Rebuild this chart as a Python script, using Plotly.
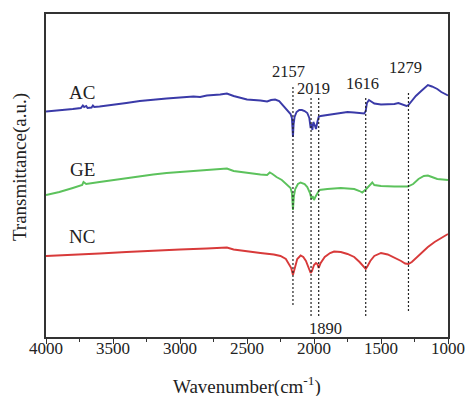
import plotly.graph_objects as go

# Wavenumber (cm-1) and transmittance (arbitrary units)
ac_x = [4000, 3900, 3800, 3740, 3725, 3715, 3700, 3690, 3660, 3650, 3640, 3600, 3500, 3400, 3300, 3200, 3100, 3000,
        2900, 2850, 2800, 2700, 2650, 2600, 2550, 2500, 2400, 2350, 2320, 2290, 2260, 2230, 2200, 2175, 2165, 2160,
        2157, 2152, 2145, 2130, 2110, 2090, 2070, 2050, 2035, 2025, 2019, 2012, 2005, 1995, 1985, 1975, 1965, 1950,
        1900, 1850, 1800, 1750, 1700, 1650, 1625, 1614, 1605, 1590, 1570, 1550, 1500, 1450, 1400, 1370, 1340, 1310,
        1295, 1270, 1240, 1200, 1170, 1150, 1120, 1080, 1050, 1020, 1000]
ac_py = [111.5, 110.5, 109, 108, 105.5, 107, 106, 108, 107.5, 105.5, 107, 106.5, 105, 103, 101, 99.5, 98.5, 97.5,
         96.5, 97, 95.5, 94.5, 93.5, 96, 98, 99.5, 100.5, 101.5, 100, 99.5, 101, 106, 110, 114, 118, 130,
         137, 124, 117, 112, 110, 110, 111, 113, 118, 128, 124, 130, 122, 125, 129, 122, 117, 116,
         115, 113.5, 113, 112, 112.5, 113, 113.5, 111, 103, 100, 102, 103.5, 104.5, 104.5, 104, 103, 104.5, 106,
         105, 101, 96, 91, 87, 85, 86.5, 89, 92, 94, 95.5]

ge_x = [4000, 3900, 3800, 3730, 3720, 3700, 3600, 3500, 3400, 3300, 3200, 3100, 3000, 2900, 2800, 2700, 2650, 2600,
        2500, 2400, 2350, 2330, 2310, 2280, 2240, 2200, 2175, 2165, 2157, 2150, 2140, 2120, 2100, 2070, 2050, 2030,
        2019, 2010, 2000, 1990, 1975, 1960, 1900, 1800, 1750, 1700, 1660, 1640, 1610, 1590, 1565, 1550, 1500, 1400,
        1350, 1300, 1260, 1220, 1180, 1150, 1120, 1080, 1040, 1000]
ge_py = [195, 192, 188, 185, 182, 184, 182, 180, 178, 176, 174.5, 173, 172, 171, 169.5, 168.5, 168.5, 171,
         173, 174.5, 175, 172.5, 174, 177, 180, 185, 188, 193, 210, 196, 189, 184, 182.5, 184, 187, 193,
         199, 196, 200, 197, 193, 190, 189, 188, 188.5, 189, 191, 192.5, 189, 186, 182.5, 185, 186, 186.5,
         186.5, 186.5, 184, 179, 176, 175.5, 177, 179, 179.5, 180]

nc_x = [4000, 3800, 3600, 3400, 3200, 3000, 2800, 2680, 2650, 2600, 2500, 2400, 2300, 2250, 2210, 2190, 2170, 2157,
        2145, 2125, 2100, 2080, 2060, 2040, 2025, 2015, 2000, 1985, 1975, 1965, 1950, 1920, 1880, 1850, 1800, 1750,
        1700, 1660, 1630, 1614, 1600, 1580, 1550, 1500, 1450, 1400, 1350, 1320, 1295, 1270, 1240, 1200, 1150, 1100,
        1050, 1000]
nc_py = [256, 255, 253.5, 252, 250.5, 249.5, 248.5, 247.5, 247.5, 249.5, 251.5, 253, 254.5, 256, 259, 263, 268, 275,
         268, 259, 255.5, 257, 261, 268, 273, 271, 265, 263, 264, 268, 263, 257, 253, 251.5, 252, 254,
         257, 262, 267, 269, 266, 261, 256, 253, 254.5, 257.5, 261, 263.5, 264, 262, 258, 253, 247, 242,
         238, 234]

# marked peaks: label, drawn position, top and bottom of the dashed guide
peak_labels = ["2157", "2019", "1890", "1616", "1279"]
peak_pos = [2157, 2022, 1965, 1614, 1295]
peak_top_py = [87, 98, 98, 98, 93]
peak_bot_py = [306, 317, 317, 318, 312]

BASE = 337.0


def v(py_list):
    return [BASE - p for p in py_list]


FONT = "Liberation Serif, Times New Roman, serif"

fig = go.Figure()
fig.add_trace(go.Scatter(x=ac_x, y=v(ac_py), mode="lines", line=dict(color="#3a3aa8", width=1.9), showlegend=False))
fig.add_trace(go.Scatter(x=ge_x, y=v(ge_py), mode="lines", line=dict(color="#5cc25c", width=1.9), showlegend=False))
fig.add_trace(go.Scatter(x=nc_x, y=v(nc_py), mode="lines", line=dict(color="#d83a3a", width=1.9), showlegend=False))

for p, t, b in zip(peak_pos, peak_top_py, peak_bot_py):
    fig.add_trace(go.Scatter(x=[p, p], y=[BASE - t, BASE - b], mode="lines",
                             line=dict(color="#222222", width=1.2, dash="2px,2px"), showlegend=False))

# peak labels
label_x = [2193, 2006, 1916, 1635, 1319]
label_py = [71.7, 88, 328, 83, 67.7]
for txt, lx, ly in zip(peak_labels, label_x, label_py):
    fig.add_annotation(x=lx, y=BASE - ly, text=txt, showarrow=False, xref="x", yref="y",
                       font=dict(family=FONT, size=16.5, color="#222222"))

# sample labels
sample_names = ["AC", "GE", "NC"]
sample_py = [92, 169, 236]
for txt, ly in zip(sample_names, sample_py):
    fig.add_annotation(x=3731, y=BASE - ly, text=txt, showarrow=False, xref="x", yref="y",
                       font=dict(family=FONT, size=19, color="#222222"))

fig.add_annotation(x=0.499, y=-0.151, xref="paper", yref="paper", text="Wavenumber(cm<sup>-1</sup>)",
                   showarrow=False, font=dict(family=FONT, size=19, color="#222222"), yanchor="middle")
fig.add_annotation(x=-0.0647, y=0.526, xref="paper", yref="paper", text="Transmittance(a.u.)", textangle=-90,
                   showarrow=False, font=dict(family=FONT, size=19, color="#222222"), xanchor="center", yanchor="middle")

fig.update_layout(
    width=465, height=396,
    margin=dict(l=46, r=17, t=14, b=59, autoexpand=False),
    paper_bgcolor="white", plot_bgcolor="white",
    font=dict(family=FONT, color="#222222"),
)
fig.update_xaxes(range=[4000, 1000], tickvals=[4000, 3500, 3000, 2500, 2000, 1500, 1000], automargin=False,
                 ticks="outside", ticklen=5, tickwidth=1.3, tickcolor="#333333", ticklabelstandoff=-10,
                 minor=dict(ticks="outside", ticklen=3, dtick=250, tick0=1000, tickcolor="#333333", tickwidth=1.2),
                 showline=True, linecolor="#333333", linewidth=1.5, mirror=True,
                 showgrid=False, zeroline=False, tickfont=dict(family=FONT, size=17, color="#222222"))
fig.update_yaxes(range=[0, 323], showticklabels=False, ticks="", showline=True, linecolor="#333333",
                 linewidth=1.5, mirror=True, showgrid=False, zeroline=False, automargin=False)

fig.write_html("out.html")
